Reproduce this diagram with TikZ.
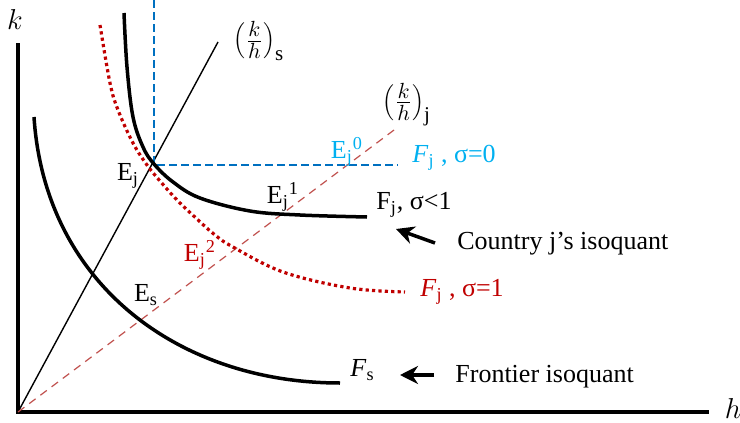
\documentclass[tikz,border=0pt]{standalone}
\usepackage{fontspec}
\setmainfont{Liberation Serif}
\usetikzlibrary{arrows.meta,positioning}
\definecolor{darkred}{RGB}{192,0,0}
\definecolor{rayred}{RGB}{192,80,77}
\definecolor{lineblue}{RGB}{0,112,192}
\definecolor{lightblue}{RGB}{0,176,240}
\tikzset{
  axis/.style={line width=2pt},
  isoq/.style={line width=1.75pt},
  rays/.style={line width=0.7pt},
  rayj/.style={line width=0.6pt,rayred,dash pattern=on 4pt off 3pt},
  zerodash/.style={line width=0.75pt,lineblue,dash pattern=on 4pt off 2pt},
  unitdot/.style={line width=1.6pt,darkred,dash pattern=on 1.6pt off 1.6pt},
  lbl/.style={font=\fontsize{13}{15}\selectfont,inner sep=0pt},
  axlbl/.style={font=\fontsize{15}{17}\selectfont,inner sep=0pt},
  arr/.style={-{Stealth[length=9pt,width=9pt]},line width=1.75pt}
}

\begin{document}
\begin{tikzpicture}[x=0.5pt,y=-0.5pt]
  \useasboundingbox (0,0) rectangle (740,423);

  % axes
  \coordinate (O) at (18,412);
  \coordinate (ktop) at (18,43);
  \coordinate (hend) at (709,412);
  \draw[axis] (ktop) -- (O) -- (hend);
  \node[axlbl] (klbl) at (15,20) {$k$};
  \node[axlbl] (hlbl) at (733,408) {$h$};

  % rays
  \coordinate (raysend) at (218,42);
  \coordinate (rayjend) at (398,127);
  \draw[rays] (O) -- (raysend);
  \draw[rayj] (O) -- (rayjend);
  \node[axlbl] (rayslbl) at (259,41) {$\left(\frac{k}{h}\right)_{\mathrm{s}}$};
  \node[axlbl] (rayjlbl) at (407,105) {$\left(\frac{k}{h}\right)_{\mathrm{j}}$};

  % sigma=0 isoquant
  \coordinate (Ej) at (154,165);
  \coordinate (zerotop) at (154,0);
  \coordinate (zeroend) at (398,165);
  \draw[zerodash] (zerotop) -- (Ej) -- (zeroend);

  % isoquants
  \draw[unitdot] plot[smooth,tension=0.6] coordinates {(100,25) (110,83) (118,110) (133,143) (147,165) (160,181) (177,200) (197,219) (215,235) (233,247) (283,272) (350,288) (405,292)};
  \draw[isoq] plot[smooth,tension=0.6] coordinates {(124,13) (127,67) (133,117) (143,147) (154,164) (173,182) (200,198) (250,211) (300,215) (367,217)};
  \coordinate (Fstop) at (34,117);
  \coordinate (Fsend) at (340,383);
  \draw[isoq] (Fstop) .. controls (45,285) and (180,383) .. (Fsend);

  % labels
  \node[lbl] (Ejlbl) at (128,176) {E\textsubscript{j}};
  \node[lbl,lightblue] (Ej0lbl) at (347,152) {E\textsubscript{j}\textsuperscript{0}};
  \node[lbl] (Ej1lbl) at (283,197) {E\textsubscript{j}\textsuperscript{1}};
  \node[lbl,darkred] (Ej2lbl) at (200,255) {E\textsubscript{j}\textsuperscript{2}};
  \node[lbl] (Eslbl) at (146,295) {E\textsubscript{s}};
  \node[lbl,lightblue,anchor=west] (Fj0lbl) at (412,158) {\textit{F}\textsubscript{j} , σ=0};
  \node[lbl,anchor=west] (Fj1lbl) at (376,205) {F\textsubscript{j}, σ<1};
  \node[lbl,darkred,anchor=west] (Fjunitlbl) at (420,292) {\textit{F}\textsubscript{j} , σ=1};
  \node[lbl,anchor=west] (Fslbl) at (350,370) {\textit{F}\textsubscript{s}};
  \node[lbl,anchor=west] (ctylbl) at (457,244) {Country j’s isoquant};
  \node[lbl,anchor=west] (frontlbl) at (455,377) {Frontier isoquant};

  % pointers
  \coordinate (ctytail) at (435,243);
  \coordinate (ctytip) at (396,229);
  \coordinate (fronttail) at (434,375);
  \coordinate (fronttip) at (400,375);
  \draw[arr] (ctytail) -- (ctytip);
  \draw[arr] (fronttail) -- (fronttip);
\end{tikzpicture}
\end{document}
